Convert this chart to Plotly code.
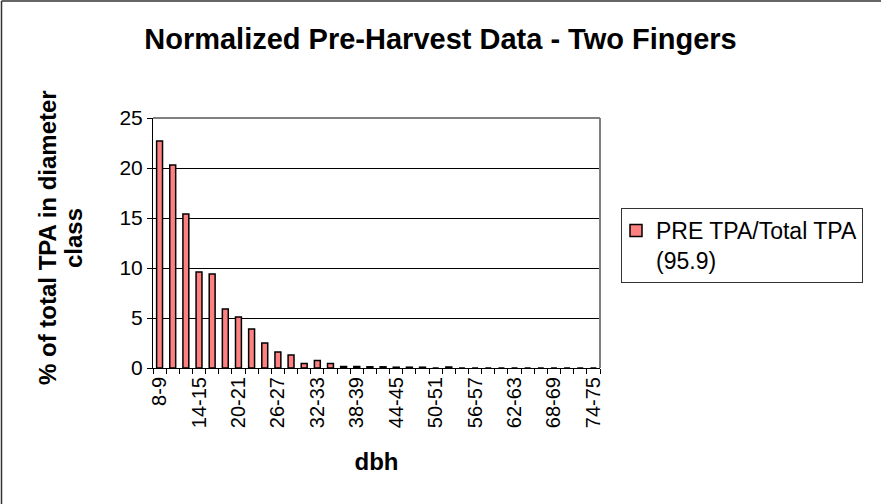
import plotly.graph_objects as go

# Diameter classes (inches) and share of total TPA in each class
categories = [
    "8-9", "10-11", "12-13", "14-15", "16-17", "18-19", "20-21", "22-23",
    "24-25", "26-27", "28-29", "30-31", "32-33", "34-35", "36-37", "38-39",
    "40-41", "42-43", "44-45", "46-47", "48-49", "50-51", "52-53", "54-55",
    "56-57", "58-59", "60-61", "62-63", "64-65", "66-67", "68-69", "70-71",
    "72-73", "74-75",
]
pre_pct = [
    22.7, 20.3, 15.4, 9.6, 9.4, 5.9, 5.1, 3.9,
    2.5, 1.6, 1.3, 0.45, 0.75, 0.45, 0.15, 0.15,
    0.12, 0.12, 0.08, 0.08, 0.08, 0.0, 0.1, 0.0,
    0.0, 0.0, 0.0, 0.0, 0.0, 0.0, 0.0, 0.0,
    0.0, 0.0,
]
series_name = "PRE TPA/Total TPA<br>(95.9)"
y_title_lines = ["% of total TPA in diameter", "class"]
label_every = 3
tick_text = [c if i % label_every == 0 else "" for i, c in enumerate(categories)]

FONT = "Arial, 'Liberation Sans', sans-serif"
W, H = 881, 504
ML, MR, MT, MB = 153, 281, 118, 136
PW, PH = W - ML - MR, H - MT - MB


def px_x(p):
    return (p - ML) / PW


def px_y(p):
    return (H - MB - p) / PH


fig = go.Figure()
fig.add_trace(go.Bar(
    x=categories,
    y=pre_pct,
    name=series_name,
    width=0.45,
    marker=dict(color="#FF8080", line=dict(color="black", width=1.5)),
))

fig.update_layout(
    width=W, height=H,
    margin=dict(l=ML, r=MR, t=MT, b=MB),
    paper_bgcolor="white",
    plot_bgcolor="white",
    font=dict(family=FONT, color="black"),
    title=dict(
        text="<b>Normalized Pre-Harvest Data - Two Fingers</b>",
        font=dict(family=FONT, size=29, color="black"),
        x=0.5, xanchor="center",
        y=1 - 39 / H, yanchor="middle",
    ),
    showlegend=True,
    legend=dict(
        x=px_x(621), y=px_y(208),
        xanchor="left", yanchor="top",
        bordercolor="#333333", borderwidth=1,
        bgcolor="white",
        font=dict(family=FONT, size=23, color="black"),
        itemwidth=30,
        valign="top",
        indentation=-6,
    ),
)

fig.update_xaxes(
    type="category",
    tickmode="array",
    tickvals=categories,
    ticktext=tick_text,
    tickson="boundaries",
    tickangle=-90,
    ticks="outside", ticklen=5, tickcolor="black", tickwidth=1,
    showline=True, linecolor="black", linewidth=1,
    showgrid=False,
    tickfont=dict(family=FONT, size=20, color="black"),
    title=dict(text="<b>dbh</b>", font=dict(family=FONT, size=24, color="black"), standoff=26),
)

fig.update_yaxes(
    range=[0, 25],
    dtick=5,
    ticks="outside", ticklen=5, tickcolor="black", tickwidth=1,
    showline=True, linecolor="black", linewidth=1,
    showgrid=True, gridcolor="black", gridwidth=1,
    zeroline=False,
    tickfont=dict(family=FONT, size=21, color="black"),
)

# Two-line vertical axis title
for line_text, xc in zip(y_title_lines, [47, 73]):
    fig.add_annotation(
        text=f"<b>{line_text}</b>",
        xref="paper", yref="paper",
        x=px_x(xc), y=px_y(238),
        xanchor="center", yanchor="middle",
        textangle=-90, showarrow=False,
        font=dict(family=FONT, size=24, color="black"),
    )

# Plot-area frame (top and right edges) in grey
fig.add_shape(type="line", xref="paper", yref="paper", x0=0, x1=1, y0=1, y1=1,
              line=dict(color="#808080", width=2))
fig.add_shape(type="line", xref="paper", yref="paper", x0=1, x1=1, y0=0, y1=1,
              line=dict(color="#808080", width=2))

# Chart-area frame along top and left of the page
fig.add_shape(type="line", xref="paper", yref="paper",
              x0=px_x(1.5), x1=px_x(W + 5), y0=px_y(1), y1=px_y(1),
              line=dict(color="#333333", width=1.5))
fig.add_shape(type="line", xref="paper", yref="paper",
              x0=px_x(1.5), x1=px_x(1.5), y0=px_y(1), y1=px_y(H + 5),
              line=dict(color="#333333", width=1.5))

fig.write_html("out.html")
